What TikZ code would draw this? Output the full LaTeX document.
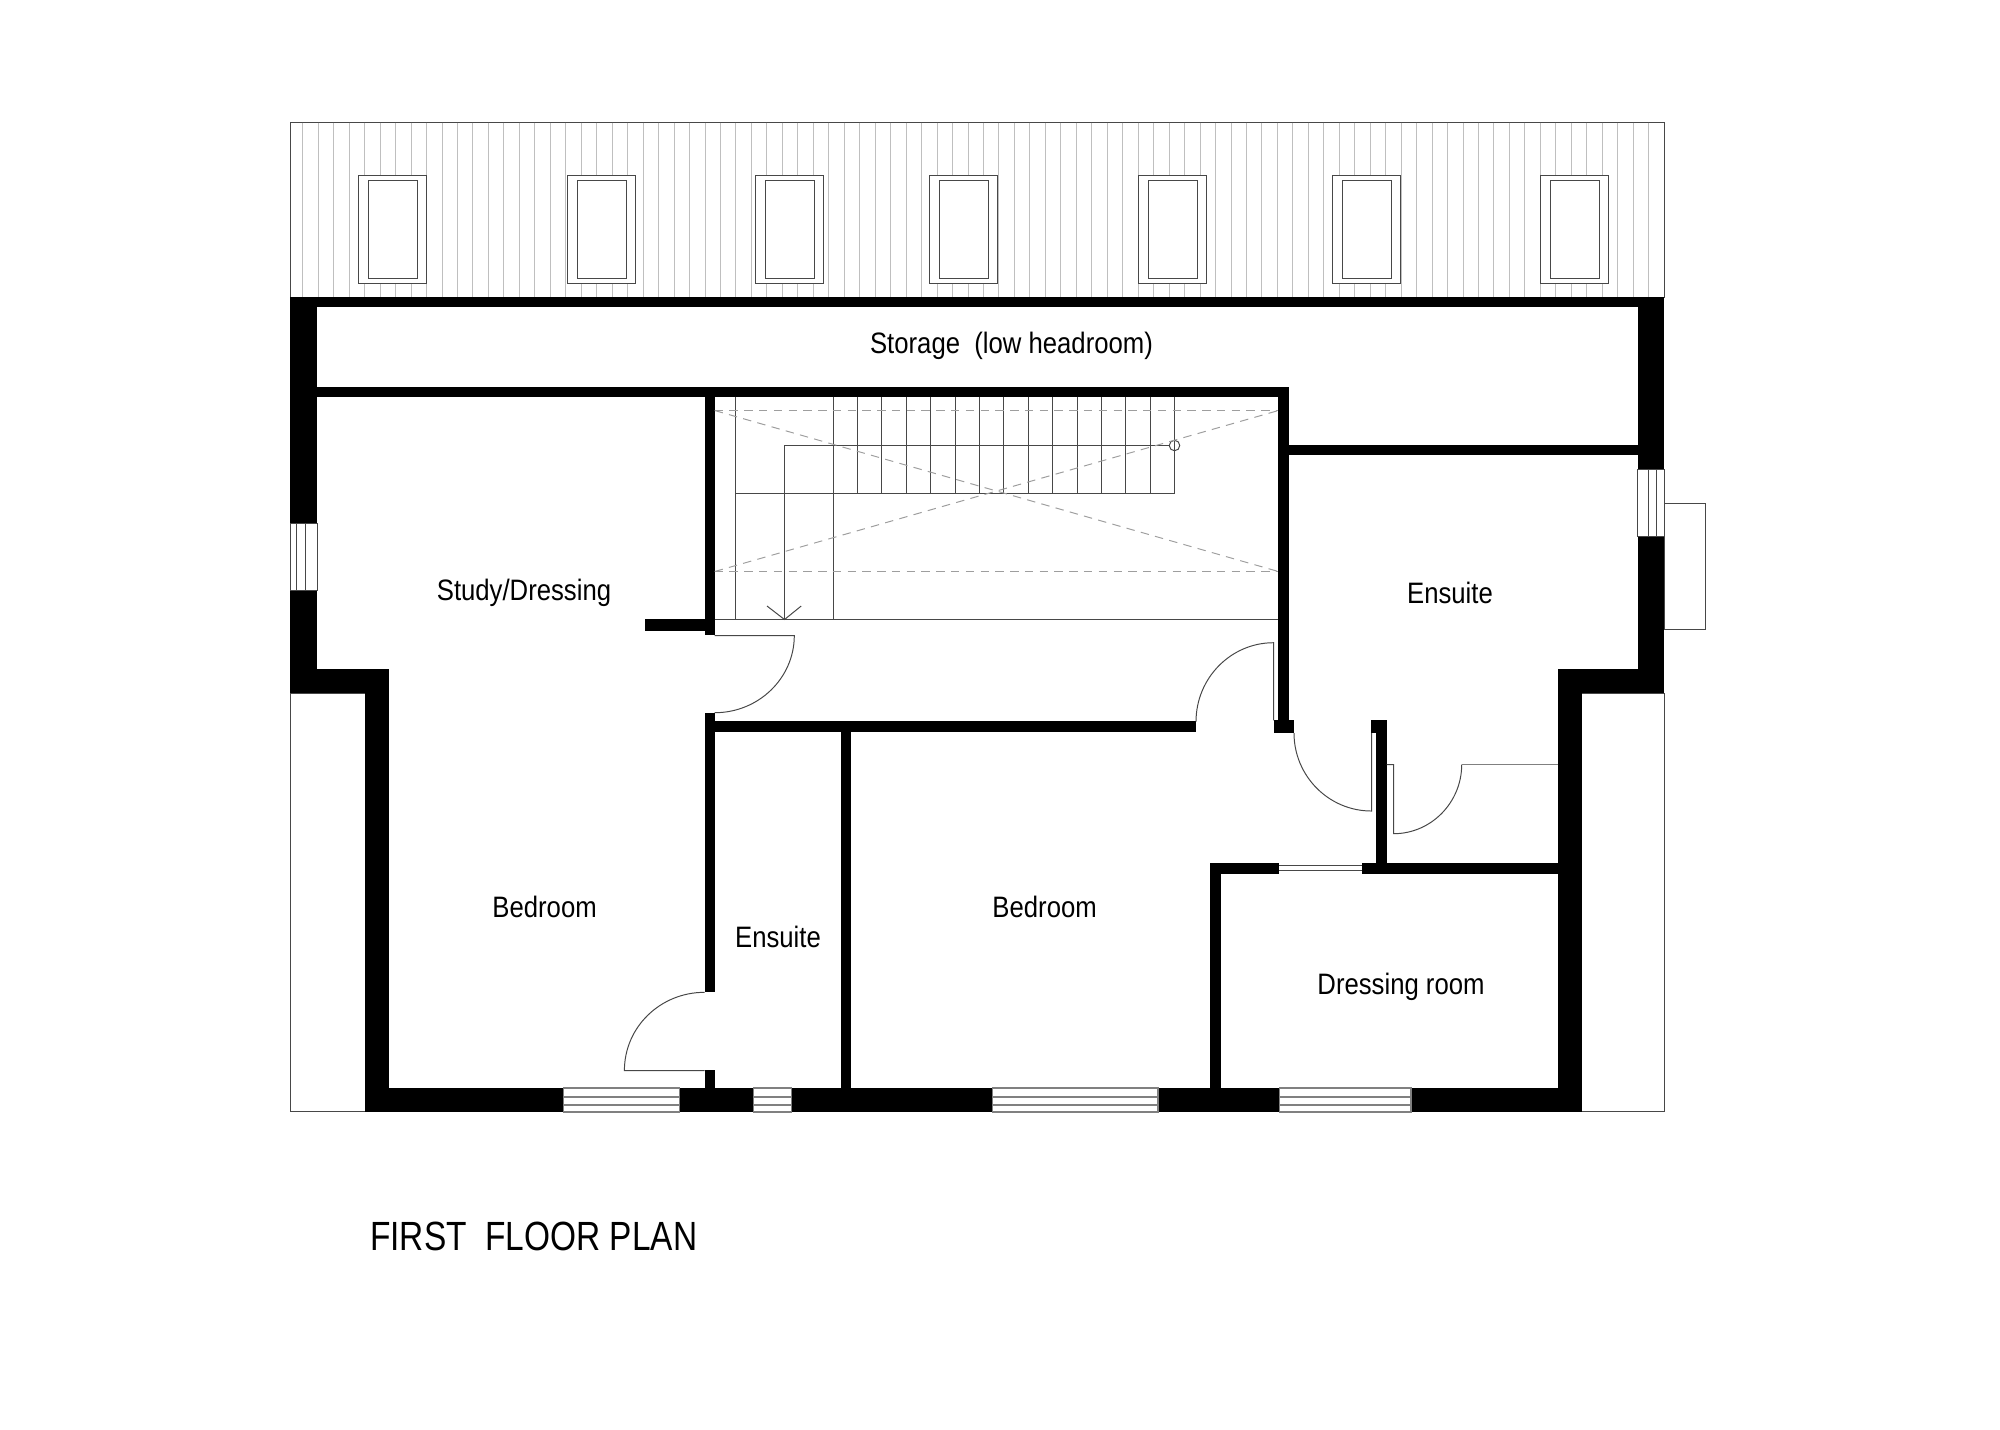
\documentclass[tikz,border=0pt]{standalone}
\usepackage{fontspec}
\setmainfont[FakeStretch=0.87]{Liberation Sans}
\newfontfamily\titlefont[FakeStretch=0.82]{Liberation Sans}

\tikzset{
    wall/.style={fill=black},
    fine/.style={draw=black!72, line width=0.28pt},
    hatchline/.style={draw=black!25, line width=0.28pt},
    glass/.style={draw=black!50, line width=0.45pt},
    hidden/.style={draw=black!38, line width=0.28pt, dash pattern=on 2.4pt off 1.8pt},
    roomlabel/.style={inner sep=0pt, anchor=base, font=\fontsize{8.4}{10}\selectfont},
    titlelabel/.style={inner sep=0pt, anchor=base west, font=\titlefont\fontsize{11.6}{14}\selectfont}
}

\begin{document}
\begin{tikzpicture}[x=0.01cm, y=-0.01cm]
    \useasboundingbox (0,0) rectangle (2000,1429);

    % roof
    \draw[fine] (290.5,122.5) rectangle (1664,297);
    \foreach \k in {0,...,87}
        \draw[hatchline] ({round(302.3+15.47*\k)+0.5},122.5) -- ({round(302.3+15.47*\k)+0.5},297);
    \foreach \x in {358.5,567.5,755.5,929.5,1138.5,1332.5,1540.5} {
        \draw[fine, fill=white] (\x,175.5) rectangle ++(68,108);
        \draw[fine] ({\x+10},180.5) rectangle ++(49,98);
    }

    % outline of low roofs and chimney
    \draw[fine] (290.5,693.3) rectangle (365.3,1111.5);
    \draw[fine] (1581.7,693.3) rectangle (1664.5,1111.5);
    \draw[fine] (1664.5,503.5) rectangle (1705.5,629.5);

    % outer walls
    \fill[wall] (290,297) rectangle (1664.3,307.3);
    \fill[wall] (290,297) rectangle (317,523.3);
    \fill[wall] (290,590.7) rectangle (317,693.3);
    \fill[wall] (290,669.3) rectangle (389,693.3);
    \fill[wall] (365.3,669.3) rectangle (389,1112.3);
    \fill[wall] (1637.7,297) rectangle (1664.3,469.3);
    \fill[wall] (1637.7,536.7) rectangle (1664.3,693.3);
    \fill[wall] (1557.7,669) rectangle (1664.3,693.3);
    \fill[wall] (1557.7,669) rectangle (1581.7,1112.3);
    \foreach \xa/\xb in {365.3/563.6, 679.5/753.4, 791.3/992.3, 1157.8/1279.3, 1411/1581.7}
        \fill[wall] (\xa,1088) rectangle (\xb,1112.3);

    % inner walls
    \fill[wall] (290,386.7) rectangle (1289,396.7);
    \fill[wall] (1278.4,444.7) rectangle (1640,454.5);
    \fill[wall] (1278.4,386.7) rectangle (1289,720.3);
    \fill[wall] (1274,720.3) rectangle (1294,733);
    \fill[wall] (704.5,396.7) rectangle (714.7,635);
    \fill[wall] (645,619.3) rectangle (704.5,631);
    \fill[wall] (704.5,712.7) rectangle (714.7,732);
    \fill[wall] (704.5,721.3) rectangle (1196,732);
    \fill[wall] (841,732) rectangle (851.4,1088);
    \fill[wall] (704.5,732) rectangle (714.7,992.3);
    \fill[wall] (704.5,1070) rectangle (714.7,1088);
    \fill[wall] (1371.3,720.3) rectangle (1386.7,733);
    \fill[wall] (1376,733) rectangle (1386.7,873.7);
    \fill[wall] (1361.7,863.3) rectangle (1557.7,873.7);
    \fill[wall] (1210,863.3) rectangle (1279,873.7);
    \fill[wall] (1210,863.3) rectangle (1221,1088);

    % windows
    \foreach \xa/\xb in {563.6/679.5, 753.4/791.3, 992.3/1157.8, 1279.3/1411} {
        \draw[glass] (\xa,1088) rectangle (\xb,1112);
        \draw[glass] (\xa,1096.7) -- (\xb,1096.7);
        \draw[glass] (\xa,1105) -- (\xb,1105);
    }
    \draw[fine] (290.5,523.3) rectangle (317,590.7);
    \draw[fine] (296.5,523.3) -- (296.5,590.7);
    \draw[fine] (305.5,523.3) -- (305.5,590.7);
    \draw[fine] (1637.7,469.3) rectangle (1664.3,536.7);
    \draw[fine] (1648.5,469.3) -- (1648.5,536.7);
    \draw[fine] (1656.5,469.3) -- (1656.5,536.7);
    \draw[fine] (1279,865.5) -- (1361.7,865.5);
    \draw[fine] (1279,870.5) -- (1361.7,870.5);

    % doors
    \draw[fine] (714.7,635.5) -- (794.3,635.5) .. controls (794.3,678) and (758.7,712.7) .. (714.7,712.7);
    \draw[fine] (1273.5,720.3) -- (1273.5,642.7) .. controls (1230.9,642.7) and (1196,678) .. (1196,721.7);
    \draw[fine] (1294,733) .. controls (1294,776) and (1328.7,811) .. (1371.5,811) -- (1371.5,733);
    \draw[fine] (1386.7,764.5) -- (1393.5,764.5) -- (1393.5,833.7) .. controls (1431.3,833.7) and (1461.7,802.3) .. (1461.7,764.5);
    \draw[fine] (704.5,992.3) .. controls (660.4,992.3) and (624.4,1027) .. (624.4,1070.5) -- (704.5,1070.5);
    \draw[glass] (1461.7,764.3) -- (1557.7,764.3);

    % stairs
    \draw[fine] (735.5,396.7) -- (735.5,619.5);
    \foreach \k in {0,...,14}
        \draw[fine] ({round(832.7+24.4*\k)+0.5},396.7) -- ({round(832.7+24.4*\k)+0.5},493.5);
    \draw[fine] (833.5,493.5) -- (833.5,619.5);
    \draw[fine] (735.5,493.5) -- (1175,493.5);
    \draw[fine] (714.7,619.5) -- (1278.4,619.5);
    \node[circle, fine, minimum size=10.5*0.01cm, inner sep=0pt] (start) at (1174.5,445.5) {};
    \draw[fine] (start) -- (784.5,445.5) -- (784.5,619.5);
    \draw[fine] (767,606) -- (784.5,619.5) -- (801.2,606);

    % opening above the stairs
    \draw[hidden] (714.7,410.5) -- (1278.4,410.5);
    \draw[hidden] (714.7,571.5) -- (1278.4,571.5);
    \draw[hidden] (714.7,410.5) -- (1278.4,571.5);
    \draw[hidden] (714.7,571.5) -- (1278.4,410.5);

    % labels
    \node[roomlabel] (storage) at (1011.5,353.3) {Storage\ \ (low headroom)};
    \node[roomlabel] (study) at (524,600.5) {Study/Dressing};
    \node[roomlabel] (bed1) at (544.6,917) {Bedroom};
    \node[roomlabel] (ens1) at (778,947.5) {Ensuite};
    \node[roomlabel] (bed2) at (1044.6,917) {Bedroom};
    \node[roomlabel] (ens2) at (1450,603) {Ensuite};
    \node[roomlabel] (dress) at (1401,994.3) {Dressing room};
    \node[titlelabel] (title) at (369.5,1250) {FIRST\ \ FLOOR PLAN};
\end{tikzpicture}
\end{document}
